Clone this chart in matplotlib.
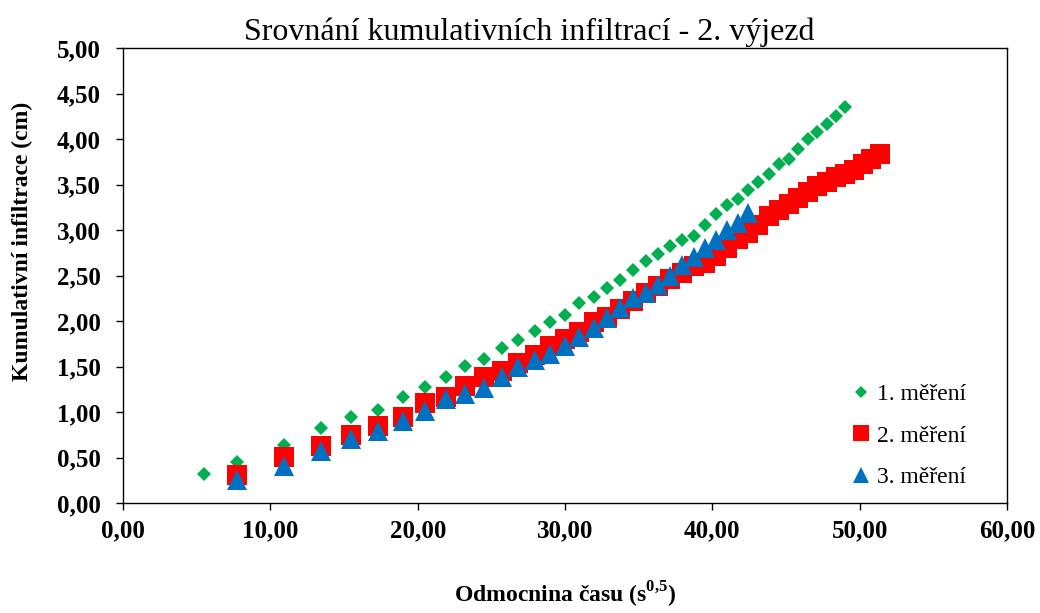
import numpy as np
import matplotlib
matplotlib.use("Agg")
import matplotlib.pyplot as plt
from matplotlib.ticker import FuncFormatter, MultipleLocator

# odmocnina casu (s^0.5) a kumulativni infiltrace (cm)
x1 = [5.48, 7.75, 10.95, 13.42, 15.49, 17.32, 18.97, 20.49, 21.91, 23.24, 24.49,
      25.69, 26.83, 27.93, 28.98, 30.00, 30.98, 31.94, 32.86, 33.76, 34.64, 35.50,
      36.33, 37.15, 37.95, 38.73, 39.50, 40.25, 40.99, 41.71, 42.43, 43.13, 43.82,
      44.50, 45.17, 45.83, 46.48, 47.12, 47.75, 48.37, 48.99]
y1 = [0.32, 0.45, 0.64, 0.82, 0.95, 1.02, 1.16, 1.27, 1.38, 1.51, 1.58,
      1.70, 1.79, 1.89, 1.99, 2.07, 2.20, 2.26, 2.36, 2.45, 2.56, 2.66,
      2.74, 2.82, 2.89, 2.93, 3.05, 3.18, 3.27, 3.34, 3.44, 3.53, 3.62,
      3.72, 3.78, 3.89, 4.00, 4.08, 4.16, 4.25, 4.35]

x2 = [7.75, 10.95, 13.42, 15.49, 17.32, 18.97, 20.49, 21.91, 23.24, 24.49, 25.69,
      26.83, 27.93, 28.98, 30.00, 30.98, 31.94, 32.86, 33.76, 34.64, 35.50, 36.33,
      37.15, 37.95, 38.73, 39.50, 40.25, 40.99, 41.71, 42.43, 43.13, 43.82, 44.50,
      45.17, 45.83, 46.48, 47.12, 47.75, 48.37, 48.99, 49.60, 50.20, 50.79, 51.38]
y2 = [0.31, 0.51, 0.63, 0.75, 0.85, 0.95, 1.10, 1.17, 1.29, 1.38, 1.45,
      1.54, 1.63, 1.72, 1.80, 1.88, 1.99, 2.04, 2.13, 2.22, 2.31, 2.38,
      2.46, 2.53, 2.60, 2.64, 2.71, 2.80, 2.90, 2.97, 3.05, 3.15, 3.22,
      3.29, 3.35, 3.42, 3.48, 3.53, 3.58, 3.62, 3.66, 3.73, 3.78, 3.84]

x3 = [7.75, 10.95, 13.42, 15.49, 17.32, 18.97, 20.49, 21.91, 23.24, 24.49, 25.69,
      26.83, 27.93, 28.98, 30.00, 30.98, 31.94, 32.86, 33.76, 34.64, 35.50, 36.33,
      37.15, 37.95, 38.73, 39.50, 40.25, 40.99, 41.71, 42.43]
y3 = [0.25, 0.41, 0.57, 0.70, 0.79, 0.90, 1.01, 1.14, 1.20, 1.26, 1.39,
      1.50, 1.57, 1.64, 1.73, 1.82, 1.92, 2.03, 2.14, 2.25, 2.31, 2.40,
      2.50, 2.62, 2.70, 2.80, 2.89, 3.00, 3.08, 3.19]

labels = ["1. měření", "2. měření", "3. měření"]

plt.rcParams['font.family'] = ['Liberation Serif', 'DejaVu Serif']
plt.rcParams['mathtext.fontset'] = 'custom'
plt.rcParams['mathtext.rm'] = 'Liberation Serif'
plt.rcParams['mathtext.bf'] = 'Liberation Serif:bold'

fig = plt.figure(figsize=(10.4, 6.13), dpi=100)
ax = fig.add_axes([0.1183, 0.1794, 0.85, 0.7423])

ax.plot(x1, y1, ls='none', marker='D', ms=7.4, color='#00B050', mew=0, label=labels[0])
ax.plot(x2, y2, ls='none', marker='s', ms=14, color='#FF0000', mew=0, label=labels[1])
ax.plot(x3, y3, ls='none', marker='^', ms=14, color='#0070C0', mew=0, label=labels[2])

ax.set_xlim(0, 60)
ax.set_ylim(0, 5)
ax.xaxis.set_major_locator(MultipleLocator(10))
ax.yaxis.set_major_locator(MultipleLocator(0.5))
fmt = FuncFormatter(lambda v, p: "{:.2f}".format(v).replace('.', ','))
ax.xaxis.set_major_formatter(fmt)
ax.yaxis.set_major_formatter(fmt)

for lab in ax.get_xticklabels() + ax.get_yticklabels():
    lab.set_fontweight('bold')
ax.tick_params(axis='both', direction='out', length=5, width=1, labelsize=18)
ax.tick_params(axis='x', pad=7)
ax.tick_params(axis='y', pad=11)
for sp in ax.spines.values():
    sp.set_linewidth(1)
    sp.set_color('black')

ax.set_title("Srovnání kumulativních infiltrací - 2. výjezd", fontsize=23, pad=6, x=0.46)
ax.set_xlabel(r"Odmocnina času (s$^{\mathbf{0{,}5}}$)", fontsize=17, weight='bold', labelpad=27)
ax.set_ylabel("Kumulativní infiltrace (cm)", fontsize=17, weight='bold')
ax.yaxis.set_label_coords(-0.102, 0.576)

leg = ax.legend(loc='upper left', bbox_to_anchor=(0.821, 0.262), frameon=False,
                borderpad=0, borderaxespad=0, handlelength=1.0, handletextpad=0.2,
                labelspacing=0.84, markerscale=0.85, prop={'size': 17})

fig.savefig("out.png", dpi=100)
